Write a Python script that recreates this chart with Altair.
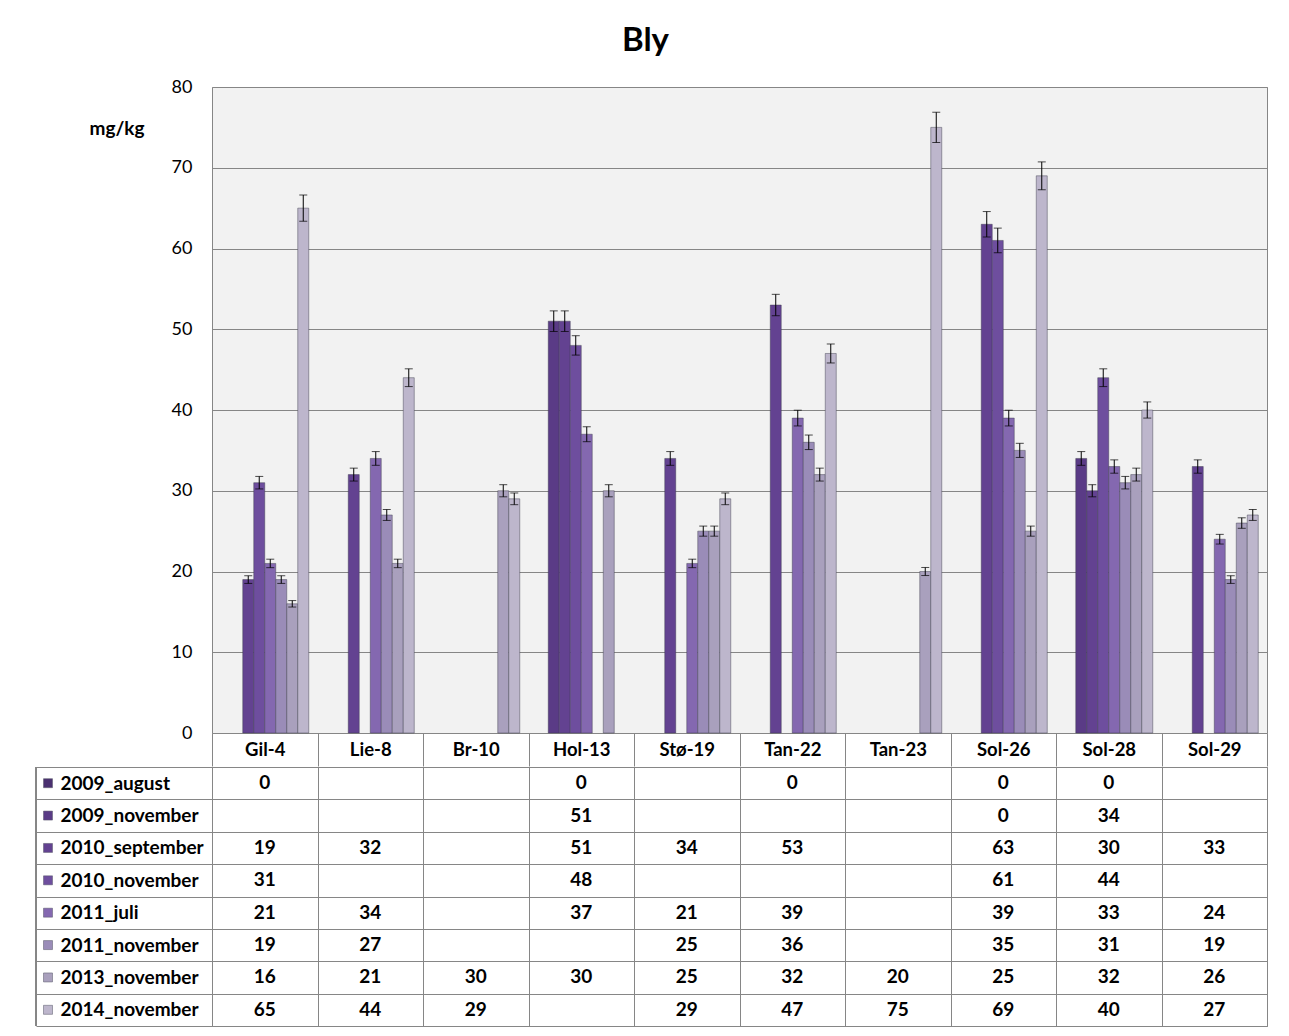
import altair as alt
import pandas as pd

categories = ["Gil-4", "Lie-8", "Br-10", "Hol-13", "Stø-19", "Tan-22", "Tan-23", "Sol-26", "Sol-28", "Sol-29"]
series = ["2009_august", "2009_november", "2010_september", "2010_november",
          "2011_juli", "2011_november", "2013_november", "2014_november"]
colors = ["#4A3070", "#5A3B86", "#634291", "#6E4E9E", "#8468B0", "#9A8CB8", "#A9A0BD", "#BDB6CC"]

v_2009_august    = [0,    None, None, 0,    None, 0,    None, 0,  0,    None]
v_2009_november  = [None, None, None, 51,   None, None, None, 0,  34,   None]
v_2010_september = [19,   32,   None, 51,   34,   53,   None, 63, 30,   33]
v_2010_november  = [31,   None, None, 48,   None, None, None, 61, 44,   None]
v_2011_juli      = [21,   34,   None, 37,   21,   39,   None, 39, 33,   24]
v_2011_november  = [19,   27,   None, None, 25,   36,   None, 35, 31,   19]
v_2013_november  = [16,   21,   30,   30,   25,   32,   20,   25, 32,   26]
v_2014_november  = [65,   44,   29,   None, 29,   47,   75,   69, 40,   27]

all_values = [v_2009_august, v_2009_november, v_2010_september, v_2010_november,
              v_2011_juli, v_2011_november, v_2013_november, v_2014_november]

rows = []
for s, vals in zip(series, all_values):
    for c, v in zip(categories, vals):
        if v is not None:
            rows.append({"cat": c, "series": s, "v": v})
df = pd.DataFrame(rows)

FONT = "Lato"
GRID = "#868686"
W = 1055
H = 646
TH = 259
TFS = 19

color_scale = alt.Scale(domain=series, range=colors)

x_top = alt.X("cat:N", sort=categories,
              scale=alt.Scale(domain=categories, paddingInner=0, paddingOuter=0),
              axis=alt.Axis(title=None, orient="bottom", domain=False, grid=False,
                            tickBand="extent", tickSize=33, tickColor=GRID, tickWidth=1,
                            labelFont=FONT, labelFontSize=18.5, labelFontWeight="bold",
                            labelColor="black", labelPadding=-17, labelBaseline="middle",
                            labelAngle=0))
xoff = alt.XOffset("series:N", sort=series,
                   scale=alt.Scale(domain=series, paddingInner=0, paddingOuter=0.795))
y_top = alt.Y("v:Q", scale=alt.Scale(domain=[0, 80]),
              axis=alt.Axis(values=list(range(0, 81, 10)), title="mg/kg", titleAngle=0,
                            titleX=-123, titleY=41, titleAlign="left", titleBaseline="middle",
                            titleFont=FONT, titleFontSize=19, titleFontWeight="bold",
                            titleColor="black",
                            labelFont=FONT, labelFontSize=18, labelColor="black",
                            labelPadding=20, ticks=False, domain=False,
                            grid=True, gridColor=GRID, gridWidth=1))

base = alt.Chart(df).transform_filter("datum.v > 0")

bars = base.mark_bar(stroke="#3c3c4c", strokeWidth=1, strokeOpacity=0.45).encode(
    x=x_top, xOffset=xoff, y=y_top,
    color=alt.Color("series:N", scale=color_scale, legend=None),
)

err = base.transform_calculate(lo="datum.v*0.975", hi="datum.v*1.025").mark_rule(
    color="black", strokeWidth=1).encode(
    x=x_top, xOffset=xoff, y=alt.Y("lo:Q"), y2="hi:Q")
cap_hi = base.transform_calculate(hi="datum.v*1.025").mark_tick(
    color="black", size=8, thickness=1, orient="horizontal").encode(
    x=x_top, xOffset=xoff, y=alt.Y("hi:Q"))
cap_lo = base.transform_calculate(lo="datum.v*0.975").mark_tick(
    color="black", size=8, thickness=1, orient="horizontal").encode(
    x=x_top, xOffset=xoff, y=alt.Y("lo:Q"))

top = alt.layer(bars, err, cap_hi, cap_lo).properties(
    width=W, height=H,
    view=alt.ViewBackground(fill="#F2F2F2", stroke=GRID, strokeWidth=1))

# data table
x_tab = alt.X("cat:N", sort=categories,
              scale=alt.Scale(domain=categories, paddingInner=0, paddingOuter=0),
              axis=alt.Axis(title=None, labels=False, ticks=False, domain=False,
                            grid=True, gridColor=GRID, tickBand="extent"))
y_tab = alt.Y("series:N", sort=series,
              scale=alt.Scale(domain=series, paddingInner=0, paddingOuter=0),
              axis=alt.Axis(title=None, domain=False, grid=True, gridColor=GRID,
                            tickBand="extent", ticks=True, tickSize=176, tickColor=GRID,
                            labelAlign="left", labelPadding=-24, labelBaseline="middle",
                            labelFont=FONT, labelFontSize=TFS, labelFontWeight="bold",
                            labelColor="black"))

tab_text = alt.Chart(df).mark_text(font=FONT, fontSize=TFS, fontWeight="bold",
                                   color="black", baseline="middle").encode(
    x=x_tab, y=y_tab, text=alt.Text("v:Q", format="d"))

legend_df = pd.DataFrame({"series": series})
tab_sq = alt.Chart(legend_df).mark_square(size=81, opacity=1, stroke="#555566",
                                          strokeWidth=0.5).encode(
    x=alt.value(-164), y=y_tab,
    color=alt.Color("series:N", scale=color_scale, legend=None))

left_border = alt.Chart(legend_df).mark_rule(color=GRID, strokeWidth=1).encode(
    x=alt.value(-176), y=alt.value(0), y2=alt.value(TH))

table = alt.layer(tab_text, tab_sq, left_border).properties(
    width=W, height=TH,
    view=alt.ViewBackground(fill="white", stroke=GRID, strokeWidth=1))

chart = alt.vconcat(top, table, spacing=-14).resolve_scale(
    x="independent", color="shared").properties(
    title=alt.TitleParams("Bly", font=FONT, fontSize=33, fontWeight="bold",
                          color="black", anchor="middle", offset=20, dx=-6),
    padding={"left": 27, "top": 16, "right": 5, "bottom": 5},
    background="white",
).configure_view(strokeWidth=1)

chart.save("out.html", embed_options={"renderer": "svg", "actions": False})
